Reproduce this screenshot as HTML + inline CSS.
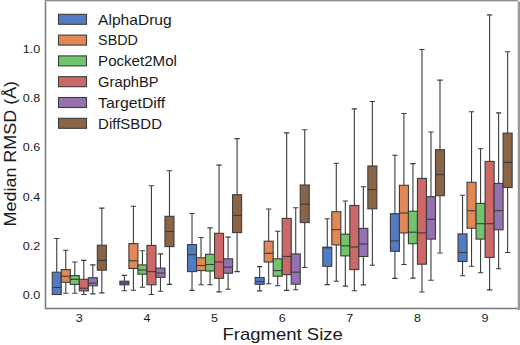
<!DOCTYPE html>
<html><head><meta charset="utf-8"><style>
html,body{margin:0;padding:0;background:#fff;width:520px;height:345px;overflow:hidden}
svg{display:block}
text{font-family:"Liberation Sans",sans-serif;fill:#1a1a1a}
.tk{font-size:11.3px}
.lg{font-size:14.2px}
.lb{font-size:17px}
</style></head><body>
<svg width="520" height="345" viewBox="0 0 520 345">
<rect width="520" height="345" fill="#fff"/>
<path d="M56.76 294.50V294.50M56.76 272.20V238.50M54.10 294.50H59.41M54.10 238.50H59.41" stroke="#3c3c3c" stroke-width="1.1" fill="none"/>
<rect x="52.25" y="272.20" width="9.02" height="22.30" fill="#527bc6" stroke="#3c3c3c" stroke-width="1.1"/>
<path d="M52.25 287.40H61.27" stroke="#3c3c3c" stroke-width="1.1"/>
<path d="M65.77 282.30V293.30M65.77 269.60V250.30M63.12 293.30H68.43M63.12 250.30H68.43" stroke="#3c3c3c" stroke-width="1.1" fill="none"/>
<rect x="61.27" y="269.60" width="9.02" height="12.70" fill="#e28856" stroke="#3c3c3c" stroke-width="1.1"/>
<path d="M61.27 276.20H70.28" stroke="#3c3c3c" stroke-width="1.1"/>
<path d="M74.79 284.40V293.30M74.79 275.60V262.00M72.14 293.30H77.45M72.14 262.00H77.45" stroke="#3c3c3c" stroke-width="1.1" fill="none"/>
<rect x="70.28" y="275.60" width="9.02" height="8.80" fill="#71c46c" stroke="#3c3c3c" stroke-width="1.1"/>
<path d="M70.28 279.30H79.30" stroke="#3c3c3c" stroke-width="1.1"/>
<path d="M83.81 290.90V294.50M83.81 279.30V260.40M81.15 294.50H86.46M81.15 260.40H86.46" stroke="#3c3c3c" stroke-width="1.1" fill="none"/>
<rect x="79.30" y="279.30" width="9.02" height="11.60" fill="#cd6868" stroke="#3c3c3c" stroke-width="1.1"/>
<path d="M79.30 288.20H88.32" stroke="#3c3c3c" stroke-width="1.1"/>
<path d="M92.83 285.80V293.90M92.83 277.70V264.90M90.17 293.90H95.48M90.17 264.90H95.48" stroke="#3c3c3c" stroke-width="1.1" fill="none"/>
<rect x="88.32" y="277.70" width="9.02" height="8.10" fill="#9471af" stroke="#3c3c3c" stroke-width="1.1"/>
<path d="M88.32 283.10H97.33" stroke="#3c3c3c" stroke-width="1.1"/>
<path d="M101.84 270.20V292.90M101.84 245.20V208.10M99.19 292.90H104.50M99.19 208.10H104.50" stroke="#3c3c3c" stroke-width="1.1" fill="none"/>
<rect x="97.33" y="245.20" width="9.02" height="25.00" fill="#896446" stroke="#3c3c3c" stroke-width="1.1"/>
<path d="M97.33 260.40H106.35" stroke="#3c3c3c" stroke-width="1.1"/>
<path d="M124.39 284.80V290.70M124.39 281.20V275.40M121.73 290.70H127.04M121.73 275.40H127.04" stroke="#3c3c3c" stroke-width="1.1" fill="none"/>
<rect x="119.88" y="281.20" width="9.02" height="3.60" fill="#527bc6" stroke="#3c3c3c" stroke-width="1.1"/>
<path d="M119.88 283.00H128.90" stroke="#3c3c3c" stroke-width="1.1"/>
<path d="M133.40 268.50V290.20M133.40 243.60V206.20M130.75 290.20H136.06M130.75 206.20H136.06" stroke="#3c3c3c" stroke-width="1.1" fill="none"/>
<rect x="128.90" y="243.60" width="9.02" height="24.90" fill="#e28856" stroke="#3c3c3c" stroke-width="1.1"/>
<path d="M128.90 260.80H137.91" stroke="#3c3c3c" stroke-width="1.1"/>
<path d="M142.42 274.20V287.20M142.42 264.90V250.70M139.77 287.20H145.08M139.77 250.70H145.08" stroke="#3c3c3c" stroke-width="1.1" fill="none"/>
<rect x="137.91" y="264.90" width="9.02" height="9.30" fill="#71c46c" stroke="#3c3c3c" stroke-width="1.1"/>
<path d="M137.91 270.00H146.93" stroke="#3c3c3c" stroke-width="1.1"/>
<path d="M151.44 284.80V294.50M151.44 245.40V185.80M148.78 294.50H154.09M148.78 185.80H154.09" stroke="#3c3c3c" stroke-width="1.1" fill="none"/>
<rect x="146.93" y="245.40" width="9.02" height="39.40" fill="#cd6868" stroke="#3c3c3c" stroke-width="1.1"/>
<path d="M146.93 271.60H155.95" stroke="#3c3c3c" stroke-width="1.1"/>
<path d="M160.46 277.30V291.30M160.46 268.10V253.90M157.80 291.30H163.11M157.80 253.90H163.11" stroke="#3c3c3c" stroke-width="1.1" fill="none"/>
<rect x="155.95" y="268.10" width="9.02" height="9.20" fill="#9471af" stroke="#3c3c3c" stroke-width="1.1"/>
<path d="M155.95 273.00H164.96" stroke="#3c3c3c" stroke-width="1.1"/>
<path d="M169.47 246.60V284.40M169.47 216.30V170.80M166.82 284.40H172.13M166.82 170.80H172.13" stroke="#3c3c3c" stroke-width="1.1" fill="none"/>
<rect x="164.96" y="216.30" width="9.02" height="30.30" fill="#896446" stroke="#3c3c3c" stroke-width="1.1"/>
<path d="M164.96 231.50H173.98" stroke="#3c3c3c" stroke-width="1.1"/>
<path d="M192.02 271.60V290.40M192.02 244.60V213.50M189.36 290.40H194.67M189.36 213.50H194.67" stroke="#3c3c3c" stroke-width="1.1" fill="none"/>
<rect x="187.51" y="244.60" width="9.02" height="27.00" fill="#527bc6" stroke="#3c3c3c" stroke-width="1.1"/>
<path d="M187.51 254.70H196.53" stroke="#3c3c3c" stroke-width="1.1"/>
<path d="M201.03 270.60V284.80M201.03 257.80V237.50M198.38 284.80H203.69M198.38 237.50H203.69" stroke="#3c3c3c" stroke-width="1.1" fill="none"/>
<rect x="196.53" y="257.80" width="9.02" height="12.80" fill="#e28856" stroke="#3c3c3c" stroke-width="1.1"/>
<path d="M196.53 265.50H205.54" stroke="#3c3c3c" stroke-width="1.1"/>
<path d="M210.05 271.00V284.80M210.05 254.30V227.90M207.40 284.80H212.71M207.40 227.90H212.71" stroke="#3c3c3c" stroke-width="1.1" fill="none"/>
<rect x="205.54" y="254.30" width="9.02" height="16.70" fill="#71c46c" stroke="#3c3c3c" stroke-width="1.1"/>
<path d="M205.54 264.50H214.56" stroke="#3c3c3c" stroke-width="1.1"/>
<path d="M219.07 278.30V291.90M219.07 233.30V165.10M216.41 291.90H221.72M216.41 165.10H221.72" stroke="#3c3c3c" stroke-width="1.1" fill="none"/>
<rect x="214.56" y="233.30" width="9.02" height="45.00" fill="#cd6868" stroke="#3c3c3c" stroke-width="1.1"/>
<path d="M214.56 262.00H223.58" stroke="#3c3c3c" stroke-width="1.1"/>
<path d="M228.09 273.20V289.20M228.09 258.80V237.10M225.43 289.20H230.74M225.43 237.10H230.74" stroke="#3c3c3c" stroke-width="1.1" fill="none"/>
<rect x="223.58" y="258.80" width="9.02" height="14.40" fill="#9471af" stroke="#3c3c3c" stroke-width="1.1"/>
<path d="M223.58 267.10H232.59" stroke="#3c3c3c" stroke-width="1.1"/>
<path d="M237.10 232.60V271.60M237.10 194.70V138.60M234.45 271.60H239.76M234.45 138.60H239.76" stroke="#3c3c3c" stroke-width="1.1" fill="none"/>
<rect x="232.59" y="194.70" width="9.02" height="37.90" fill="#896446" stroke="#3c3c3c" stroke-width="1.1"/>
<path d="M232.59 215.50H241.61" stroke="#3c3c3c" stroke-width="1.1"/>
<path d="M259.65 284.30V290.90M259.65 277.50V266.60M256.99 290.90H262.30M256.99 266.60H262.30" stroke="#3c3c3c" stroke-width="1.1" fill="none"/>
<rect x="255.14" y="277.50" width="9.02" height="6.80" fill="#527bc6" stroke="#3c3c3c" stroke-width="1.1"/>
<path d="M255.14 281.50H264.16" stroke="#3c3c3c" stroke-width="1.1"/>
<path d="M268.66 262.00V283.80M268.66 241.20V209.00M266.01 283.80H271.32M266.01 209.00H271.32" stroke="#3c3c3c" stroke-width="1.1" fill="none"/>
<rect x="264.16" y="241.20" width="9.02" height="20.80" fill="#e28856" stroke="#3c3c3c" stroke-width="1.1"/>
<path d="M264.16 253.30H273.17" stroke="#3c3c3c" stroke-width="1.1"/>
<path d="M277.68 276.20V285.80M277.68 258.80V231.20M275.03 285.80H280.34M275.03 231.20H280.34" stroke="#3c3c3c" stroke-width="1.1" fill="none"/>
<rect x="273.17" y="258.80" width="9.02" height="17.40" fill="#71c46c" stroke="#3c3c3c" stroke-width="1.1"/>
<path d="M273.17 270.60H282.19" stroke="#3c3c3c" stroke-width="1.1"/>
<path d="M286.70 274.60V290.40M286.70 218.40V132.90M284.04 290.40H289.35M284.04 132.90H289.35" stroke="#3c3c3c" stroke-width="1.1" fill="none"/>
<rect x="282.19" y="218.40" width="9.02" height="56.20" fill="#cd6868" stroke="#3c3c3c" stroke-width="1.1"/>
<path d="M282.19 256.40H291.21" stroke="#3c3c3c" stroke-width="1.1"/>
<path d="M295.72 284.20V289.80M295.72 253.90V207.70M293.06 289.80H298.37M293.06 207.70H298.37" stroke="#3c3c3c" stroke-width="1.1" fill="none"/>
<rect x="291.21" y="253.90" width="9.02" height="30.30" fill="#9471af" stroke="#3c3c3c" stroke-width="1.1"/>
<path d="M291.21 272.20H300.22" stroke="#3c3c3c" stroke-width="1.1"/>
<path d="M304.73 222.60V267.50M304.73 185.00V129.70M302.08 267.50H307.39M302.08 129.70H307.39" stroke="#3c3c3c" stroke-width="1.1" fill="none"/>
<rect x="300.22" y="185.00" width="9.02" height="37.60" fill="#896446" stroke="#3c3c3c" stroke-width="1.1"/>
<path d="M300.22 204.20H309.24" stroke="#3c3c3c" stroke-width="1.1"/>
<path d="M327.28 266.30V284.60M327.28 247.20V218.80M324.62 284.60H329.93M324.62 218.80H329.93" stroke="#3c3c3c" stroke-width="1.1" fill="none"/>
<rect x="322.77" y="247.20" width="9.02" height="19.10" fill="#527bc6" stroke="#3c3c3c" stroke-width="1.1"/>
<path d="M322.77 247.80H331.79" stroke="#3c3c3c" stroke-width="1.1"/>
<path d="M336.29 244.90V281.20M336.29 211.70V163.20M333.64 281.20H338.95M333.64 163.20H338.95" stroke="#3c3c3c" stroke-width="1.1" fill="none"/>
<rect x="331.79" y="211.70" width="9.02" height="33.20" fill="#e28856" stroke="#3c3c3c" stroke-width="1.1"/>
<path d="M331.79 229.60H340.80" stroke="#3c3c3c" stroke-width="1.1"/>
<path d="M345.31 255.90V286.10M345.31 234.20V201.00M342.66 286.10H347.97M342.66 201.00H347.97" stroke="#3c3c3c" stroke-width="1.1" fill="none"/>
<rect x="340.80" y="234.20" width="9.02" height="21.70" fill="#71c46c" stroke="#3c3c3c" stroke-width="1.1"/>
<path d="M340.80 245.80H349.82" stroke="#3c3c3c" stroke-width="1.1"/>
<path d="M354.33 269.60V290.70M354.33 205.50V108.90M351.67 290.70H356.98M351.67 108.90H356.98" stroke="#3c3c3c" stroke-width="1.1" fill="none"/>
<rect x="349.82" y="205.50" width="9.02" height="64.10" fill="#cd6868" stroke="#3c3c3c" stroke-width="1.1"/>
<path d="M349.82 247.00H358.84" stroke="#3c3c3c" stroke-width="1.1"/>
<path d="M363.35 256.50V284.90M363.35 228.40V186.70M360.69 284.90H366.00M360.69 186.70H366.00" stroke="#3c3c3c" stroke-width="1.1" fill="none"/>
<rect x="358.84" y="228.40" width="9.02" height="28.10" fill="#9471af" stroke="#3c3c3c" stroke-width="1.1"/>
<path d="M358.84 244.00H367.85" stroke="#3c3c3c" stroke-width="1.1"/>
<path d="M372.36 208.80V265.20M372.36 166.00V101.50M369.71 265.20H375.02M369.71 101.50H375.02" stroke="#3c3c3c" stroke-width="1.1" fill="none"/>
<rect x="367.85" y="166.00" width="9.02" height="42.80" fill="#896446" stroke="#3c3c3c" stroke-width="1.1"/>
<path d="M367.85 189.60H376.87" stroke="#3c3c3c" stroke-width="1.1"/>
<path d="M394.91 251.30V278.40M394.91 213.70V155.20M392.25 278.40H397.56M392.25 155.20H397.56" stroke="#3c3c3c" stroke-width="1.1" fill="none"/>
<rect x="390.40" y="213.70" width="9.02" height="37.60" fill="#527bc6" stroke="#3c3c3c" stroke-width="1.1"/>
<path d="M390.40 240.90H399.42" stroke="#3c3c3c" stroke-width="1.1"/>
<path d="M403.92 232.90V264.50M403.92 185.30V113.50M401.27 264.50H406.58M401.27 113.50H406.58" stroke="#3c3c3c" stroke-width="1.1" fill="none"/>
<rect x="399.42" y="185.30" width="9.02" height="47.60" fill="#e28856" stroke="#3c3c3c" stroke-width="1.1"/>
<path d="M399.42 213.00H408.43" stroke="#3c3c3c" stroke-width="1.1"/>
<path d="M412.94 243.70V278.10M412.94 211.30V163.60M410.29 278.10H415.60M410.29 163.60H415.60" stroke="#3c3c3c" stroke-width="1.1" fill="none"/>
<rect x="408.43" y="211.30" width="9.02" height="32.40" fill="#71c46c" stroke="#3c3c3c" stroke-width="1.1"/>
<path d="M408.43 232.20H417.45" stroke="#3c3c3c" stroke-width="1.1"/>
<path d="M421.96 264.20V292.00M421.96 178.40V49.50M419.30 292.00H424.61M419.30 49.50H424.61" stroke="#3c3c3c" stroke-width="1.1" fill="none"/>
<rect x="417.45" y="178.40" width="9.02" height="85.80" fill="#cd6868" stroke="#3c3c3c" stroke-width="1.1"/>
<path d="M417.45 232.90H426.47" stroke="#3c3c3c" stroke-width="1.1"/>
<path d="M430.98 239.10V280.20M430.98 196.70V132.00M428.32 280.20H433.63M428.32 132.00H433.63" stroke="#3c3c3c" stroke-width="1.1" fill="none"/>
<rect x="426.47" y="196.70" width="9.02" height="42.40" fill="#9471af" stroke="#3c3c3c" stroke-width="1.1"/>
<path d="M426.47 219.30H435.48" stroke="#3c3c3c" stroke-width="1.1"/>
<path d="M439.99 195.70V253.00M439.99 149.70V80.10M437.34 253.00H442.65M437.34 80.10H442.65" stroke="#3c3c3c" stroke-width="1.1" fill="none"/>
<rect x="435.48" y="149.70" width="9.02" height="46.00" fill="#896446" stroke="#3c3c3c" stroke-width="1.1"/>
<path d="M435.48 174.70H444.50" stroke="#3c3c3c" stroke-width="1.1"/>
<path d="M462.54 261.50V275.70M462.54 233.90V195.30M459.88 275.70H465.19M459.88 195.30H465.19" stroke="#3c3c3c" stroke-width="1.1" fill="none"/>
<rect x="458.03" y="233.90" width="9.02" height="27.60" fill="#527bc6" stroke="#3c3c3c" stroke-width="1.1"/>
<path d="M458.03 252.50H467.05" stroke="#3c3c3c" stroke-width="1.1"/>
<path d="M471.55 228.20V266.30M471.55 182.30V111.80M468.90 266.30H474.21M468.90 111.80H474.21" stroke="#3c3c3c" stroke-width="1.1" fill="none"/>
<rect x="467.05" y="182.30" width="9.02" height="45.90" fill="#e28856" stroke="#3c3c3c" stroke-width="1.1"/>
<path d="M467.05 210.70H476.06" stroke="#3c3c3c" stroke-width="1.1"/>
<path d="M480.57 239.10V272.80M480.57 203.40V148.70M477.92 272.80H483.23M477.92 148.70H483.23" stroke="#3c3c3c" stroke-width="1.1" fill="none"/>
<rect x="476.06" y="203.40" width="9.02" height="35.70" fill="#71c46c" stroke="#3c3c3c" stroke-width="1.1"/>
<path d="M476.06 223.70H485.08" stroke="#3c3c3c" stroke-width="1.1"/>
<path d="M489.59 257.40V289.90M489.59 161.40V14.90M486.93 289.90H492.24M486.93 14.90H492.24" stroke="#3c3c3c" stroke-width="1.1" fill="none"/>
<rect x="485.08" y="161.40" width="9.02" height="96.00" fill="#cd6868" stroke="#3c3c3c" stroke-width="1.1"/>
<path d="M485.08 223.70H494.10" stroke="#3c3c3c" stroke-width="1.1"/>
<path d="M498.61 229.80V268.80M498.61 183.40V112.90M495.95 268.80H501.26M495.95 112.90H501.26" stroke="#3c3c3c" stroke-width="1.1" fill="none"/>
<rect x="494.10" y="183.40" width="9.02" height="46.40" fill="#9471af" stroke="#3c3c3c" stroke-width="1.1"/>
<path d="M494.10 210.70H503.11" stroke="#3c3c3c" stroke-width="1.1"/>
<path d="M507.62 187.50V252.50M507.62 133.10V51.80M504.97 252.50H510.28M504.97 51.80H510.28" stroke="#3c3c3c" stroke-width="1.1" fill="none"/>
<rect x="503.11" y="133.10" width="9.02" height="54.40" fill="#896446" stroke="#3c3c3c" stroke-width="1.1"/>
<path d="M503.11 162.40H512.13" stroke="#3c3c3c" stroke-width="1.1"/>
<path d="M45.5 0V308.6H518.6" fill="none" stroke="#777" stroke-width="1.5"/><rect x="518" y="1.5" width="2" height="308.5" fill="#999"/><rect x="517.6" y="1.5" width="0.4" height="307.9" fill="#bbb"/><rect x="45.5" y="0" width="472.5" height="1" fill="#8e8e8e"/><rect x="45.5" y="1" width="472.5" height="1" fill="#d4d4d4"/>
<text x="40.3" y="298.90" text-anchor="end" class="tk" textLength="17.49" lengthAdjust="spacingAndGlyphs">0.0</text>
<text x="40.3" y="249.74" text-anchor="end" class="tk" textLength="17.49" lengthAdjust="spacingAndGlyphs">0.2</text>
<text x="40.3" y="200.58" text-anchor="end" class="tk" textLength="17.49" lengthAdjust="spacingAndGlyphs">0.4</text>
<text x="40.3" y="151.42" text-anchor="end" class="tk" textLength="17.49" lengthAdjust="spacingAndGlyphs">0.6</text>
<text x="40.3" y="102.26" text-anchor="end" class="tk" textLength="17.49" lengthAdjust="spacingAndGlyphs">0.8</text>
<text x="40.3" y="53.10" text-anchor="end" class="tk" textLength="17.49" lengthAdjust="spacingAndGlyphs">1.0</text>
<text x="79.30" y="322.3" text-anchor="middle" class="tk" textLength="7" lengthAdjust="spacingAndGlyphs">3</text>
<text x="146.93" y="322.3" text-anchor="middle" class="tk" textLength="7" lengthAdjust="spacingAndGlyphs">4</text>
<text x="214.56" y="322.3" text-anchor="middle" class="tk" textLength="7" lengthAdjust="spacingAndGlyphs">5</text>
<text x="282.19" y="322.3" text-anchor="middle" class="tk" textLength="7" lengthAdjust="spacingAndGlyphs">6</text>
<text x="349.82" y="322.3" text-anchor="middle" class="tk" textLength="7" lengthAdjust="spacingAndGlyphs">7</text>
<text x="417.45" y="322.3" text-anchor="middle" class="tk" textLength="7" lengthAdjust="spacingAndGlyphs">8</text>
<text x="485.08" y="322.3" text-anchor="middle" class="tk" textLength="7" lengthAdjust="spacingAndGlyphs">9</text>
<rect x="58.5" y="14.30" width="28" height="10" fill="#527bc6" stroke="#3c3c3c" stroke-width="1.1"/>
<text x="98.1" y="24.60" class="lg" textLength="73.57" lengthAdjust="spacingAndGlyphs">AlphaDrug</text>
<rect x="58.5" y="35.10" width="28" height="10" fill="#e28856" stroke="#3c3c3c" stroke-width="1.1"/>
<text x="98.1" y="45.40" class="lg" textLength="39.76" lengthAdjust="spacingAndGlyphs">SBDD</text>
<rect x="58.5" y="55.90" width="28" height="10" fill="#71c46c" stroke="#3c3c3c" stroke-width="1.1"/>
<text x="98.1" y="66.20" class="lg" textLength="78.79" lengthAdjust="spacingAndGlyphs">Pocket2Mol</text>
<rect x="58.5" y="76.70" width="28" height="10" fill="#cd6868" stroke="#3c3c3c" stroke-width="1.1"/>
<text x="98.1" y="87.00" class="lg" textLength="60.56" lengthAdjust="spacingAndGlyphs">GraphBP</text>
<rect x="58.5" y="97.50" width="28" height="10" fill="#9471af" stroke="#3c3c3c" stroke-width="1.1"/>
<text x="98.1" y="107.80" class="lg" textLength="67.15" lengthAdjust="spacingAndGlyphs">TargetDiff</text>
<rect x="58.5" y="118.30" width="28" height="10" fill="#896446" stroke="#3c3c3c" stroke-width="1.1"/>
<text x="98.1" y="128.60" class="lg" textLength="63.91" lengthAdjust="spacingAndGlyphs">DiffSBDD</text>
<text x="282.7" y="340.2" text-anchor="middle" class="lb" textLength="120.3" lengthAdjust="spacingAndGlyphs">Fragment Size</text>
<text transform="translate(15.7 153.7) rotate(-90)" text-anchor="middle" class="lb" textLength="145.6" lengthAdjust="spacingAndGlyphs">Median RMSD (Å)</text>
</svg>
</body></html>
